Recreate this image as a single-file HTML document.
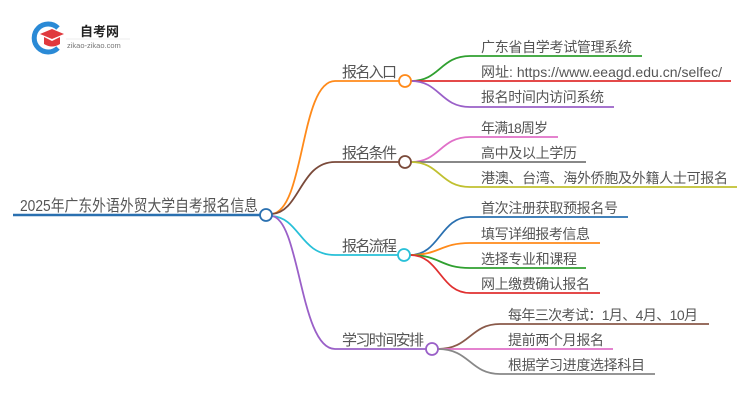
<!DOCTYPE html>
<html><head><meta charset="utf-8"><style>
body{margin:0;background:#fff;width:750px;height:410px;overflow:hidden}
svg text{font-family:"Liberation Sans","Noto Sans CJK SC",sans-serif;fill:#555}
</style></head><body>
<svg width="750" height="410" viewBox="0 0 750 410" xmlns="http://www.w3.org/2000/svg">
<!-- logo -->
<path d="M58 28 A14 14 0 1 0 58 48" fill="none" stroke="#2a8ad6" stroke-width="5"/>
<path d="M40 34 L52 29 L64 34 L52 39 Z" fill="#e0393e"/>
<path d="M44 37 L44 44 Q52 49 60 44 L60 37 L52 41 Z" fill="#e0393e"/>
<text x="80" y="36" font-size="13" font-weight="bold" style="fill:#222">自考网</text>
<line x1="66" y1="39" x2="130" y2="39" stroke="#ddd" stroke-width="0.6"/>
<text x="67" y="48" font-size="7.5" style="fill:#777">zikao-zikao.com</text>

<!-- root -->
<line x1="13" y1="215" x2="260" y2="215" stroke="#2a70b0" stroke-width="2.5"/>
<text x="20" y="211" font-size="16" textLength="238" lengthAdjust="spacingAndGlyphs">2025年广东外语外贸大学自考报名信息</text>

<g fill="none" stroke-width="1.8">
<path d="M272 214 C305 210 300 81 335 81 L405 81" stroke="#ff8a1a"/>
<path d="M272 214 C300 212 300 162 335 162 L405 162" stroke="#7a4a3a"/>
<path d="M272 216 C300 218 300 255 335 255 L404 255" stroke="#28c0d8"/>
<path d="M272 216 C300 220 300 349 335 349 L432 349" stroke="#9a60c8"/>

<path d="M411 81 C440 81 440 56 470 56 L642 56" stroke="#30a030"/>
<path d="M411 81 L731 81" stroke="#e03030"/>
<path d="M411 81 C440 81 440 107 470 107 L614 107" stroke="#9a60c8"/>

<path d="M411 162 C440 162 440 137 470 137 L558 137" stroke="#e070c8"/>
<path d="M411 162 L586 162" stroke="#777"/>
<path d="M411 162 C440 162 440 187 470 187 L737 187" stroke="#c0c030"/>

<path d="M410 255 C440 255 440 217 470 217 L628 217" stroke="#2a70b0"/>
<path d="M410 255 C440 255 440 243 470 243 L600 243" stroke="#ff8a1a"/>
<path d="M410 255 C440 255 440 268 470 268 L586 268" stroke="#30a030"/>
<path d="M410 255 C440 255 440 293 470 293 L600 293" stroke="#e03030"/>

<path d="M438 349 C470 349 470 324 500 324 L709 324" stroke="#8a5a4a"/>
<path d="M438 349 L613 349" stroke="#e070c8"/>
<path d="M438 349 C470 349 470 374 500 374 L655 374" stroke="#888"/>
</g>

<g fill="#fff" stroke-width="1.8">
<circle cx="266" cy="215" r="6" stroke="#2a70b0"/>
<circle cx="405" cy="81" r="6" stroke="#ff8a1a"/>
<circle cx="405" cy="162" r="6" stroke="#7a4a3a"/>
<circle cx="404" cy="255" r="6" stroke="#28c0d8"/>
<circle cx="432" cy="349" r="6" stroke="#9a60c8"/>
</g>

<g font-size="15" lengthAdjust="spacingAndGlyphs">
<text x="342" y="77" textLength="55">报名入口</text>
<text x="342" y="158" textLength="55">报名条件</text>
<text x="342" y="251" textLength="55">报名流程</text>
<text x="342" y="345" textLength="82">学习时间安排</text>
</g>
<g font-size="14" lengthAdjust="spacingAndGlyphs">
<text x="481" y="52" textLength="151">广东省自学考试管理系统</text>
<text x="481" y="77" textLength="241">网址: https://www.eeagd.edu.cn/selfec/</text>
<text x="481" y="102" textLength="123">报名时间内访问系统</text>
<text x="481" y="133" textLength="67">年满18周岁</text>
<text x="481" y="158" textLength="96">高中及以上学历</text>
<text x="481" y="183" textLength="247">港澳、台湾、海外侨胞及外籍人士可报名</text>
<text x="481" y="213" textLength="137">首次注册获取预报名号</text>
<text x="481" y="239" textLength="109">填写详细报考信息</text>
<text x="481" y="264" textLength="96">选择专业和课程</text>
<text x="481" y="289" textLength="109">网上缴费确认报名</text>
<text x="508" y="320" textLength="190">每年三次考试：1月、4月、10月</text>
<text x="508" y="345" textLength="96">提前两个月报名</text>
<text x="508" y="370" textLength="137">根据学习进度选择科目</text>
</g>
</svg>
</body></html>
